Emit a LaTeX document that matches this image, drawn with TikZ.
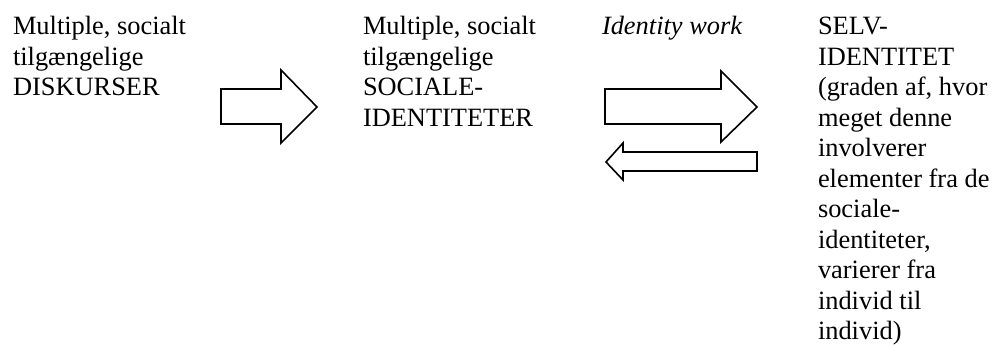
\documentclass[tikz,border=0pt]{standalone}
\usepackage{fontspec}
\setmainfont{Liberation Serif}
\begin{document}
\begin{tikzpicture}[x=1pt,y=-1pt,
  txt/.style={anchor=base west,inner sep=0pt,outer sep=0pt,font=\fontsize{26.4}{30.5}\selectfont},
  blockarrow/.style={draw=black,line width=1.6pt,fill=white,line join=miter}]
\useasboundingbox (0,0) rectangle (994,345);
\node[txt] (disk) at (13,35) {\begin{tabular}[t]{@{}l@{}}Multiple, socialt\\tilgængelige\\DISKURSER\end{tabular}};
\node[txt] (soc) at (363,35) {\begin{tabular}[t]{@{}l@{}}Multiple, socialt\\tilgængelige\\SOCIALE-\\IDENTITETER\end{tabular}};
\node[txt] (iw) at (602,35) {\textit{Identity work}};
\node[txt] (selv) at (818,35) {\begin{tabular}[t]{@{}l@{}}SELV-\\IDENTITET\\(graden af, hvor\\meget denne\\involverer\\elementer fra de\\sociale-\\identiteter,\\varierer fra\\individ til\\individ)\end{tabular}};
\draw[blockarrow] (221,89) -- (281,89) -- (281,70) -- (317,107) -- (281,143) -- (281,124) -- (221,124) -- cycle;
\draw[blockarrow] (605,89) -- (721,89) -- (721,71) -- (757,107) -- (721,142) -- (721,124) -- (605,124) -- cycle;
\draw[blockarrow] (757,152) -- (623,152) -- (623,143) -- (606,162) -- (623,180) -- (623,171) -- (757,171) -- cycle;
\end{tikzpicture}
\end{document}
